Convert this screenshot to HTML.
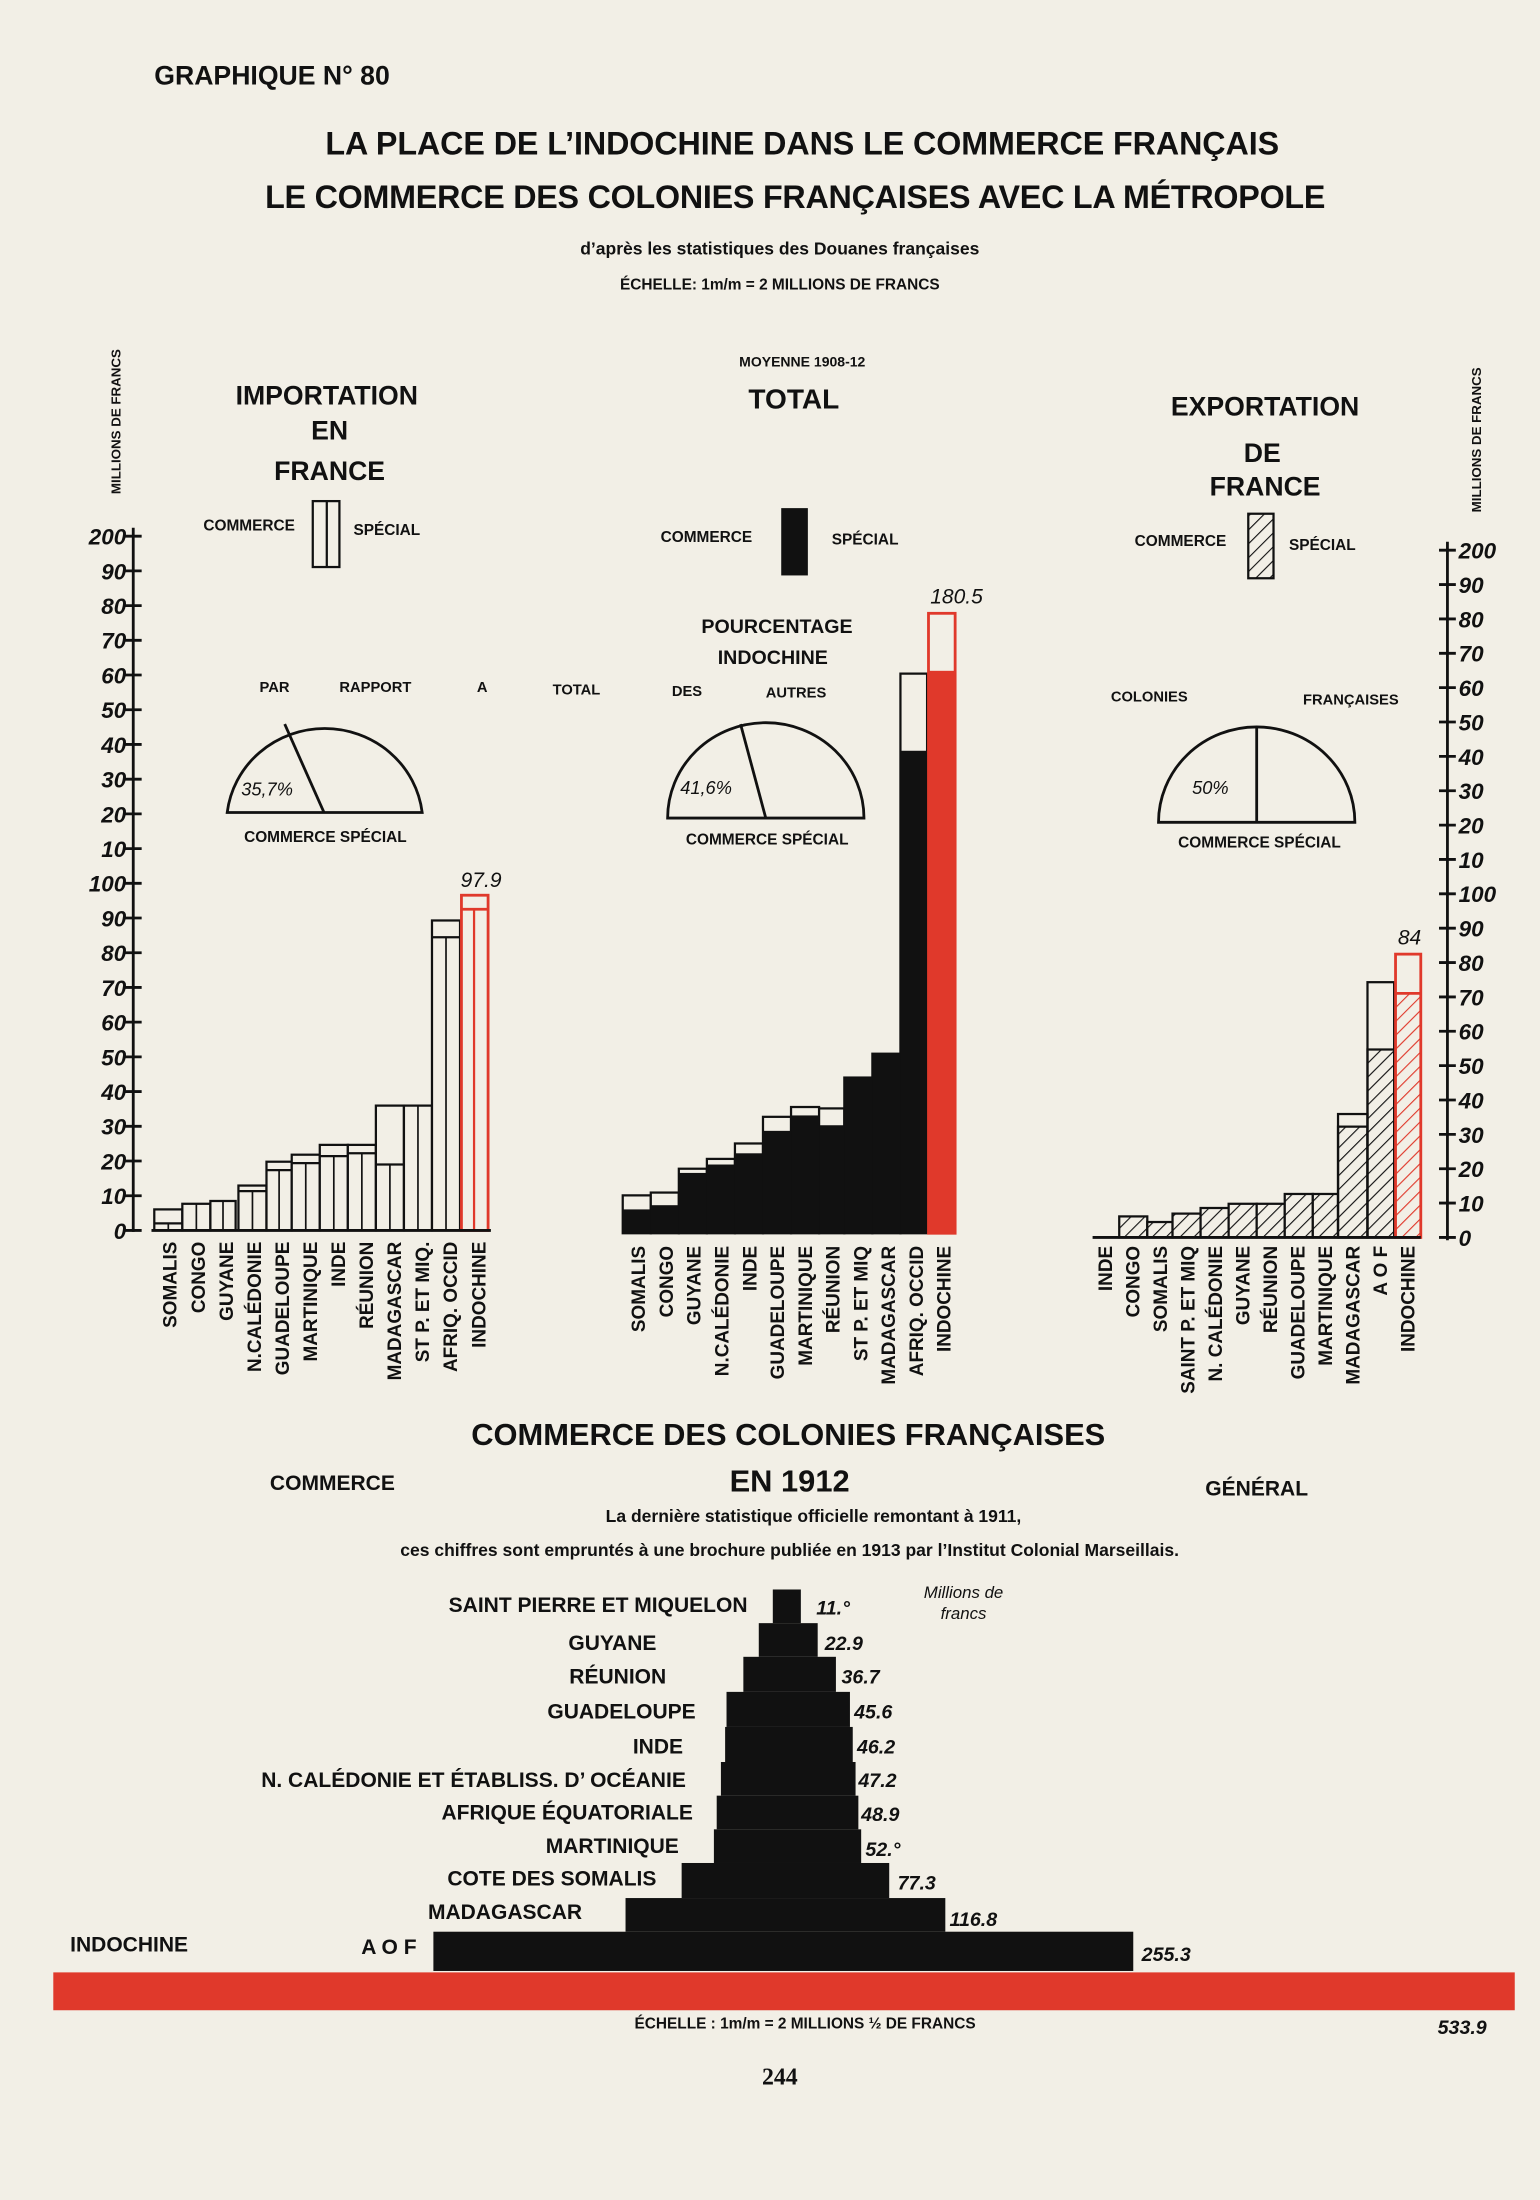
<!DOCTYPE html>
<html><head><meta charset="utf-8"><style>
html,body{margin:0;padding:0;background:#f2efe6}
svg{display:block}
text{font-family:"Liberation Sans",sans-serif;font-weight:bold;fill:#111}
.it{font-style:italic;font-weight:normal}
</style></head><body>
<svg width="1540" height="2200" viewBox="0 0 1098 1568" xmlns="http://www.w3.org/2000/svg">
<defs>
<pattern id="h" width="7" height="7" patternUnits="userSpaceOnUse" patternTransform="rotate(45)"><rect width="7" height="7" fill="#f2efe6"/><line x1="0" y1="0" x2="0" y2="7" stroke="#111" stroke-width="1.6"/></pattern>
<pattern id="hr" width="7" height="7" patternUnits="userSpaceOnUse" patternTransform="rotate(45)"><rect width="7" height="7" fill="#f2efe6"/><line x1="0" y1="0" x2="0" y2="7" stroke="#e0392b" stroke-width="1.6"/></pattern>
</defs>
<rect width="1098" height="1568" fill="#f2efe6"/>
<text x="110" y="60" font-size="19">GRAPHIQUE N° 80</text>
<text x="572" y="110" font-size="23" text-anchor="middle" textLength="680">LA PLACE DE L’INDOCHINE DANS LE COMMERCE FRANÇAIS</text>
<text x="567" y="148" font-size="23" text-anchor="middle" textLength="756">LE COMMERCE DES COLONIES FRANÇAISES AVEC LA MÉTROPOLE</text>
<text x="556" y="181" font-size="12.5" text-anchor="middle">d’après les statistiques des Douanes françaises</text>
<text x="556" y="206" font-size="11" text-anchor="middle">ÉCHELLE: 1m/m = 2 MILLIONS DE FRANCS</text>
<text x="572" y="261" font-size="10" text-anchor="middle">MOYENNE 1908-12</text>
<text x="566" y="291" font-size="20" text-anchor="middle">TOTAL</text>
<text transform="translate(86,352) rotate(-90)" font-size="9.5">MILLIONS DE FRANCS</text>
<text transform="translate(1056,365) rotate(-90)" font-size="9.5">MILLIONS DE FRANCS</text>
<text x="233" y="288" font-size="19" text-anchor="middle">IMPORTATION</text>
<text x="235" y="313" font-size="19" text-anchor="middle">EN</text>
<text x="235" y="342" font-size="19" text-anchor="middle">FRANCE</text>
<text x="902" y="296" font-size="19" text-anchor="middle">EXPORTATION</text>
<text x="900" y="329" font-size="19" text-anchor="middle">DE</text>
<text x="902" y="353" font-size="19" text-anchor="middle">FRANCE</text>
<text x="145" y="378" font-size="11">COMMERCE</text><rect x="223" y="357" width="19" height="47" fill="none" stroke="#111" stroke-width="1.6"/><line x1="233" y1="357" x2="233" y2="404" stroke="#111" stroke-width="1.6"/><text x="252" y="381" font-size="11">SPÉCIAL</text>
<text x="471" y="386" font-size="11">COMMERCE</text><rect x="557" y="362" width="19" height="48" fill="#111"/><text x="593" y="388" font-size="11">SPÉCIAL</text>
<text x="809" y="389" font-size="11">COMMERCE</text><rect x="890" y="366" width="18" height="46" fill="url(#h)" stroke="#111" stroke-width="1.6"/><text x="919" y="392" font-size="11">SPÉCIAL</text>
<text x="554" y="451" font-size="14" text-anchor="middle">POURCENTAGE</text>
<text x="551" y="473" font-size="14" text-anchor="middle">INDOCHINE</text>
<text x="185" y="493" font-size="10.5">PAR</text>
<text x="242" y="493" font-size="10.5">RAPPORT</text><text x="340" y="493" font-size="10.5">A</text><text x="394" y="495" font-size="10.5">TOTAL</text><text x="479" y="496" font-size="10.5">DES</text><text x="546" y="497" font-size="10.5">AUTRES</text>
<text x="792" y="500" font-size="10.5">COLONIES</text><text x="929" y="502" font-size="10.5">FRANÇAISES</text>
<path d="M162,579 A70,68 0 0 1 301,579 Z" fill="none" stroke="#111" stroke-width="2"/><line x1="203" y1="516" x2="231" y2="579" stroke="#111" stroke-width="2"/><text x="172" y="567" font-size="13" class="it">35,7%</text>
<text x="232" y="600" font-size="11" text-anchor="middle">COMMERCE SPÉCIAL</text>
<path d="M476,583 A70,68 0 0 1 616,583 Z" fill="none" stroke="#111" stroke-width="2"/><line x1="528" y1="516" x2="546" y2="583" stroke="#111" stroke-width="2"/><text x="485" y="566" font-size="13" class="it">41,6%</text>
<text x="547" y="602" font-size="11" text-anchor="middle">COMMERCE SPÉCIAL</text>
<path d="M826,586 A70,68 0 0 1 966,586 Z" fill="none" stroke="#111" stroke-width="2"/><line x1="896" y1="518" x2="896" y2="586" stroke="#111" stroke-width="2"/><text x="850" y="566" font-size="13" class="it">50%</text>
<text x="898" y="604" font-size="11" text-anchor="middle">COMMERCE SPÉCIAL</text>
<g stroke="#111" stroke-width="2"><line x1="95" y1="376" x2="95" y2="878"/></g>
<g id="lt" font-size="16" class="it"></g>
<g fill="#f2efe6" stroke="#111" stroke-width="1.6">
<rect x="110" y="862" width="20" height="15"/><line x1="110" y1="872" x2="130" y2="872"/>
<rect x="130" y="858" width="20" height="19"/><rect x="150" y="856" width="18" height="21"/>
<rect x="170" y="845" width="20" height="32"/><line x1="170" y1="849" x2="190" y2="849"/>
<rect x="190" y="828" width="18" height="49"/><line x1="190" y1="834" x2="208" y2="834"/>
<rect x="208" y="823" width="20" height="54"/><line x1="208" y1="829" x2="228" y2="829"/>
<rect x="228" y="816" width="20" height="61"/><line x1="228" y1="824" x2="248" y2="824"/>
<rect x="248" y="816" width="20" height="61"/><line x1="248" y1="822" x2="268" y2="822"/>
<rect x="268" y="788" width="20" height="89"/><line x1="268" y1="830" x2="288" y2="830"/>
<rect x="288" y="788" width="20" height="89"/>
<rect x="308" y="656" width="20" height="221"/><line x1="308" y1="668" x2="328" y2="668"/>
</g>
<g fill="none" stroke="#111" stroke-width="1.2"><line x1="120" y1="872" x2="120" y2="877"/><line x1="140" y1="858" x2="140" y2="877"/><line x1="159" y1="856" x2="159" y2="877"/><line x1="180" y1="849" x2="180" y2="877"/><line x1="199" y1="834" x2="199" y2="877"/><line x1="218" y1="829" x2="218" y2="877"/><line x1="238" y1="824" x2="238" y2="877"/><line x1="258" y1="822" x2="258" y2="877"/><line x1="278" y1="830" x2="278" y2="877"/><line x1="298" y1="788" x2="298" y2="877"/><line x1="318" y1="668" x2="318" y2="877"/></g>
<rect x="329" y="638" width="19" height="239" fill="none" stroke="#e0392b" stroke-width="2"/><line x1="329" y1="648" x2="348" y2="648" stroke="#e0392b" stroke-width="2"/><line x1="338" y1="648" x2="338" y2="877" stroke="#e0392b" stroke-width="1.6"/>
<text x="343" y="632" font-size="15" class="it" text-anchor="middle">97.9</text>
<line x1="108" y1="877" x2="350" y2="877" stroke="#111" stroke-width="2"/>
<g fill="#f2efe6" stroke="#111" stroke-width="1.6">
<rect x="444" y="852" width="20" height="27"/><rect x="464" y="850" width="20" height="29"/><rect x="484" y="833" width="20" height="46"/><rect x="504" y="826" width="20" height="53"/><rect x="524" y="815" width="20" height="64"/><rect x="544" y="796" width="20" height="83"/><rect x="564" y="789" width="20" height="90"/><rect x="584" y="790" width="18" height="89"/><rect x="602" y="768" width="20" height="111"/><rect x="622" y="751" width="20" height="128"/><rect x="642" y="480" width="19" height="399"/>
</g>
<g fill="#111"><rect x="444" y="862" width="20" height="17"/><rect x="464" y="859" width="20" height="20"/><rect x="484" y="836" width="20" height="43"/><rect x="504" y="830" width="20" height="49"/><rect x="524" y="822" width="20" height="57"/><rect x="544" y="806" width="20" height="73"/><rect x="564" y="795" width="20" height="84"/><rect x="584" y="802" width="18" height="77"/><rect x="602" y="768" width="20" height="111"/><rect x="622" y="751" width="20" height="128"/><rect x="642" y="535" width="19" height="344"/></g>
<rect x="662" y="437" width="19" height="442" fill="none" stroke="#e0392b" stroke-width="2"/><rect x="662" y="478" width="19" height="401" fill="#e0392b"/>
<text x="682" y="430" font-size="15" class="it" text-anchor="middle">180.5</text>
<line x1="1032" y1="386" x2="1032" y2="884" stroke="#111" stroke-width="2"/>
<g id="rt" font-size="16" class="it"></g>
<g fill="url(#h)" stroke="#111" stroke-width="1.6">
<rect x="798" y="867" width="20" height="15"/><rect x="818" y="871" width="18" height="11"/><rect x="836" y="865" width="20" height="17"/><rect x="856" y="861" width="20" height="21"/><rect x="876" y="858" width="20" height="24"/><rect x="896" y="858" width="20" height="24"/><rect x="916" y="851" width="20" height="31"/><rect x="936" y="851" width="18" height="31"/><rect x="954" y="803" width="21" height="79"/><rect x="975" y="748" width="19" height="134"/>
</g>
<g fill="none" stroke="#111" stroke-width="1.6"><rect x="954" y="794" width="21" height="88"/><rect x="975" y="700" width="19" height="182"/></g>
<rect x="995" y="708" width="18" height="174" fill="url(#hr)"/>
<rect x="995" y="680" width="18" height="202" fill="none" stroke="#e0392b" stroke-width="2"/><line x1="995" y1="708" x2="1013" y2="708" stroke="#e0392b" stroke-width="2"/>
<text x="1005" y="673" font-size="15" class="it" text-anchor="middle">84</text>
<line x1="779" y1="882" x2="1013" y2="882" stroke="#111" stroke-width="2"/>
<g font-size="13.5" id="xl"></g>
<text x="562" y="1030" font-size="22" text-anchor="middle" textLength="452">COMMERCE DES COLONIES FRANÇAISES</text>
<text x="563" y="1063" font-size="22" text-anchor="middle">EN 1912</text>
<text x="237" y="1062" font-size="15" text-anchor="middle">COMMERCE</text>
<text x="896" y="1066" font-size="15" text-anchor="middle">GÉNÉRAL</text>
<text x="580" y="1085" font-size="12.5" text-anchor="middle">La dernière statistique officielle remontant à 1911,</text>
<text x="563" y="1109" font-size="12.5" text-anchor="middle">ces chiffres sont empruntés à une brochure publiée en 1913 par l’Institut Colonial Marseillais.</text>
<text x="687" y="1139" font-size="12" class="it" text-anchor="middle">Millions de</text>
<text x="687" y="1154" font-size="12" class="it" text-anchor="middle">francs</text>
<g fill="#111">
<rect x="551" y="1133" width="20" height="24"/><rect x="541" y="1157" width="42" height="24"/><rect x="530" y="1181" width="66" height="25"/><rect x="518" y="1206" width="88" height="25"/><rect x="517" y="1231" width="91" height="25"/><rect x="514" y="1256" width="96" height="24"/><rect x="511" y="1280" width="101" height="24"/><rect x="509" y="1304" width="105" height="24"/><rect x="486" y="1328" width="148" height="25"/><rect x="446" y="1353" width="228" height="24"/><rect x="309" y="1377" width="499" height="28"/>
</g>
<rect x="38" y="1406" width="1042" height="27" fill="#e0392b"/>
<g font-size="15">
<text x="533" y="1149" text-anchor="end">SAINT PIERRE ET MIQUELON</text>
<text x="468" y="1176" text-anchor="end">GUYANE</text>
<text x="475" y="1200" text-anchor="end">RÉUNION</text>
<text x="496" y="1225" text-anchor="end">GUADELOUPE</text>
<text x="487" y="1250" text-anchor="end">INDE</text>
<text x="489" y="1274" text-anchor="end">N. CALÉDONIE ET ÉTABLISS. D’ OCÉANIE</text>
<text x="494" y="1297" text-anchor="end">AFRIQUE ÉQUATORIALE</text>
<text x="484" y="1321" text-anchor="end">MARTINIQUE</text>
<text x="468" y="1344" text-anchor="end">COTE DES SOMALIS</text>
<text x="415" y="1368" text-anchor="end">MADAGASCAR</text>
<text x="297" y="1393" text-anchor="end">A O F</text>
<text x="50" y="1391">INDOCHINE</text>
</g>
<g font-size="14" class="it">
<text x="582" y="1151">11.°</text><text x="588" y="1176">22.9</text><text x="600" y="1200">36.7</text><text x="609" y="1225">45.6</text><text x="611" y="1250">46.2</text><text x="612" y="1274">47.2</text><text x="614" y="1298">48.9</text><text x="617" y="1323">52.°</text><text x="640" y="1347">77.3</text><text x="677" y="1373">116.8</text><text x="814" y="1398">255.3</text><text x="1025" y="1450">533.9</text>
</g>
<text x="574" y="1446" font-size="11" text-anchor="middle">ÉCHELLE : 1m/m = 2 MILLIONS ½ DE FRANCS</text>
<text x="556" y="1486" font-size="17" text-anchor="middle" style="font-family:'Liberation Serif',serif">244</text>
</svg>
<script>
(function(){
var ns="http://www.w3.org/2000/svg";
function T(g,x,y,s,a,tr){var t=document.createElementNS(ns,"text");t.setAttribute("x",x);t.setAttribute("y",y);if(a)t.setAttribute("text-anchor",a);if(tr)t.setAttribute("transform",tr);t.textContent=s;g.appendChild(t);return t;}
function L(x1,y1,x2,y2){var l=document.createElementNS(ns,"line");l.setAttribute("x1",x1);l.setAttribute("y1",y1);l.setAttribute("x2",x2);l.setAttribute("y2",y2);l.setAttribute("stroke","#111");l.setAttribute("stroke-width","2");document.querySelector("svg").appendChild(l);}
var labs=["200","90","80","70","60","50","40","30","20","10","100","90","80","70","60","50","40","30","20","10","0"];
var lt=document.getElementById("lt"),rt=document.getElementById("rt");
for(var i=0;i<21;i++){var y=382+i*24.75;T(lt,90,y+6,labs[i],"end");L(89,y,101,y);
var y2=392+i*24.5;T(rt,1040,y2+6,labs[i]);L(1026,y2,1038,y2);}
var xl=document.getElementById("xl");
function V(names,x0,step,y){for(var i=0;i<names.length;i++){var x=x0+i*step;T(xl,0,0,names[i],"end","translate("+x+","+y+") rotate(-90)");}}
V(["SOMALIS","CONGO","GUYANE","N.CALÉDONIE","GUADELOUPE","MARTINIQUE","INDE","RÉUNION","MADAGASCAR","ST P. ET MIQ.","AFRIQ. OCCID","INDOCHINE"],126,20,885);
V(["SOMALIS","CONGO","GUYANE","N.CALÉDONIE","INDE","GUADELOUPE","MARTINIQUE","RÉUNION","ST P. ET MIQ","MADAGASCAR","AFRIQ. OCCID","INDOCHINE"],460,19.8,888);
V(["INDE","CONGO","SOMALIS","SAINT P. ET MIQ","N. CALÉDONIE","GUYANE","RÉUNION","GUADELOUPE","MARTINIQUE","MADAGASCAR","A O F","INDOCHINE"],793,19.6,888);
})();
</script>
</body></html>
